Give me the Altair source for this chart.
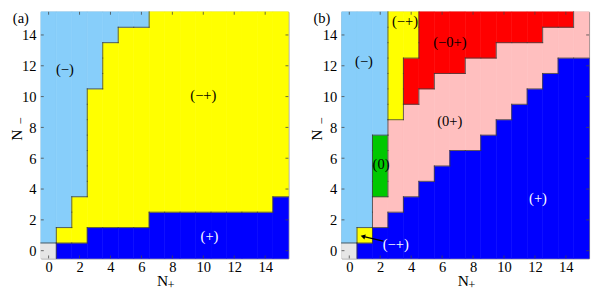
import altair as alt
import pandas as pd

# Region codes and colours
REGIONS = ["g", "L", "Y", "B", "P", "R", "G"]
REGION_COLORS = ["#e6e6e6", "#87cefa", "#ffff00", "#0000ff", "#ffbfbf", "#ff0000", "#00c800"]

# Each column (N+ = 0..15) as runs of (region, number of cells) from N- = 0 upward
PANEL_A_COLUMNS = [
    [("g", 1), ("L", 15)],
    [("B", 1), ("Y", 1), ("L", 14)],
    [("B", 1), ("Y", 3), ("L", 12)],
    [("B", 2), ("Y", 9), ("L", 5)],
    [("B", 2), ("Y", 12), ("L", 2)],
    [("B", 2), ("Y", 13), ("L", 1)],
    [("B", 2), ("Y", 13), ("L", 1)],
    [("B", 3), ("Y", 13)],
    [("B", 3), ("Y", 13)],
    [("B", 3), ("Y", 13)],
    [("B", 3), ("Y", 13)],
    [("B", 3), ("Y", 13)],
    [("B", 3), ("Y", 13)],
    [("B", 3), ("Y", 13)],
    [("B", 3), ("Y", 13)],
    [("B", 4), ("Y", 12)],
]

PANEL_B_COLUMNS = [
    [("g", 1), ("L", 15)],
    [("B", 1), ("Y", 1), ("L", 14)],
    [("B", 2), ("P", 2), ("G", 4), ("L", 8)],
    [("B", 3), ("P", 6), ("Y", 7)],
    [("B", 4), ("P", 6), ("R", 3), ("Y", 3)],
    [("B", 5), ("P", 6), ("R", 5)],
    [("B", 6), ("P", 6), ("R", 4)],
    [("B", 7), ("P", 5), ("R", 4)],
    [("B", 7), ("P", 6), ("R", 3)],
    [("B", 8), ("P", 5), ("R", 3)],
    [("B", 9), ("P", 5), ("R", 2)],
    [("B", 10), ("P", 4), ("R", 2)],
    [("B", 11), ("P", 3), ("R", 2)],
    [("B", 12), ("P", 3), ("R", 1)],
    [("B", 13), ("P", 2), ("R", 1)],
    [("B", 13), ("P", 3)],
]

TICKS = [0, 2, 4, 6, 8, 10, 12, 14]

PANEL_A_LABELS = ["(\u2212)", "(\u2212+)", "(+)"]
PANEL_A_LABEL_X = [1.05, 10.0, 10.4]
PANEL_A_LABEL_Y = [11.8, 10.1, 0.95]
PANEL_A_LABEL_COLOR = ["black", "black", "white"]

PANEL_B_LABELS = ["(\u2212)", "(\u2212+)", "(\u22120+)", "(0+)", "(0)", "(+)", "(\u2212+)"]
PANEL_B_LABEL_X = [0.95, 3.6, 6.5, 6.5, 2.05, 12.2, 3.0]
PANEL_B_LABEL_Y = [12.3, 14.9, 13.5, 8.4, 5.6, 3.4, 0.45]
PANEL_B_LABEL_COLOR = ["black", "black", "black", "black", "black", "white", "white"]

# arrow in panel (b): from the white label to the small yellow cell
ARROW_X = [2.2, 0.88]
ARROW_Y = [0.62, 0.93]

W, H = 256, 255
FONT = "Liberation Serif"


def grid_of(columns):
    g = []
    for col in columns:
        cells = []
        for code, n in col:
            cells += [code] * n
        g.append(cells)
    return g


def runs_df(columns):
    rows = []
    for x, col in enumerate(columns):
        y = 0
        for code, n in col:
            rows.append(dict(x0=x - 0.5, x1=x + 0.5, y0=y - 0.5, y1=y + n - 0.5, region=code))
            y += n
    return pd.DataFrame(rows)


def edges_df(columns):
    g = grid_of(columns)
    nx, ny = len(g), len(g[0])
    rows = []
    for x in range(nx):
        for y in range(ny):
            if x + 1 < nx and g[x][y] != g[x + 1][y]:
                rows.append(dict(x0=x + 0.5, x1=x + 0.5, y0=y - 0.5, y1=y + 0.5))
            if y + 1 < ny and g[x][y] != g[x][y + 1]:
                rows.append(dict(x0=x - 0.5, x1=x + 0.5, y0=y + 0.5, y1=y + 0.5))
    return pd.DataFrame(rows)


def txt(s, x, y, size, angle=0, align="center", baseline="alphabetic"):
    return alt.Chart(pd.DataFrame({"t": [s]})).mark_text(
        font=FONT, fontSize=size, align=align, baseline=baseline, angle=angle, color="black"
    ).encode(x=alt.value(x), y=alt.value(y), text="t:N")


def panel(columns, labels, lx, ly, lc, tag, arrow=False):
    xs = alt.Scale(domain=[-0.5, 15.5], nice=False, zero=False)
    ys = alt.Scale(domain=[-0.5, 15.5], nice=False, zero=False)
    xaxis = alt.Axis(values=TICKS, title=None, labelPadding=2)
    yaxis = alt.Axis(values=TICKS, title=None, labelPadding=5)
    cscale = alt.Scale(domain=REGIONS, range=REGION_COLORS)

    def X(f):
        return alt.X(f, scale=xs, axis=xaxis, title=None)

    def Y(f):
        return alt.Y(f, scale=ys, axis=yaxis, title=None)

    rects = alt.Chart(runs_df(columns)).mark_rect(strokeWidth=0.6).encode(
        x=X("x0:Q"), x2="x1:Q", y=Y("y0:Q"), y2="y1:Q",
        color=alt.Color("region:N", scale=cscale, legend=None),
        stroke=alt.Stroke("region:N", scale=cscale, legend=None),
    )
    edges = alt.Chart(edges_df(columns)).mark_rule(
        color="#3a3a3a", strokeWidth=0.8, strokeCap="square"
    ).encode(x=X("x0:Q"), x2="x1:Q", y=Y("y0:Q"), y2="y1:Q")
    ldf = pd.DataFrame({"x": lx, "y": ly, "label": labels, "c": lc})
    texts = alt.Chart(ldf).mark_text(font=FONT, fontSize=15).encode(
        x=X("x:Q"), y=Y("y:Q"), text="label:N", color=alt.Color("c:N", scale=None),
    )
    tdf = pd.DataFrame({"t": TICKS})
    rule = dict(color="#444", strokeWidth=0.8)
    tick_layers = [
        alt.Chart(tdf).mark_rule(**rule).encode(x=X("t:Q"), y=alt.value(H), y2=alt.value(H - 3)),
        alt.Chart(tdf).mark_rule(**rule).encode(x=X("t:Q"), y=alt.value(0), y2=alt.value(3)),
        alt.Chart(tdf).mark_rule(**rule).encode(y=Y("t:Q"), x=alt.value(0), x2=alt.value(3)),
        alt.Chart(tdf).mark_rule(**rule).encode(y=Y("t:Q"), x=alt.value(W), x2=alt.value(W - 3)),
    ]
    titles = [
        txt(tag, -29, 0, 15, align="left", baseline="top"),
        txt("N", W / 2 - 2, H + 29, 16),
        txt("+", W / 2 + 3, H + 32, 13, align="left"),
        txt("N", -20, H / 2, 16, angle=270),
        txt("\u2212", -16, H / 2 - 11, 13, angle=270, align="left"),
    ]

    layers = [rects, edges] + tick_layers + [texts] + titles
    if arrow:
        adf = pd.DataFrame({"x": ARROW_X, "y": ARROW_Y, "o": [0, 1]})
        line = alt.Chart(adf).mark_line(color="black", strokeWidth=1.2).encode(
            x=X("x:Q"), y=Y("y:Q"), order="o:Q",
        )
        head = alt.Chart(adf.iloc[[1]]).mark_point(
            shape="triangle-up", filled=True, color="black", size=30, angle=285, opacity=1
        ).encode(x=X("x:Q"), y=Y("y:Q"))
        layers += [line, head]
    return alt.layer(*layers).properties(width=W, height=H)


pa = panel(PANEL_A_COLUMNS, PANEL_A_LABELS, PANEL_A_LABEL_X, PANEL_A_LABEL_Y, PANEL_A_LABEL_COLOR, "(a)")
pb = panel(PANEL_B_COLUMNS, PANEL_B_LABELS, PANEL_B_LABEL_X, PANEL_B_LABEL_Y, PANEL_B_LABEL_COLOR, "(b)", arrow=True)

chart = alt.hconcat(pa, pb, spacing=19).properties(
    padding={"left": 0, "top": -3, "right": 0, "bottom": 0}
).configure_view(
    stroke="#777", strokeWidth=1
).configure_axis(
    labelFont=FONT, labelFontSize=15, ticks=False, grid=False, domain=False,
    labelColor="black",
)

chart.save("out.html", embed_options={"renderer": "svg", "actions": False})
